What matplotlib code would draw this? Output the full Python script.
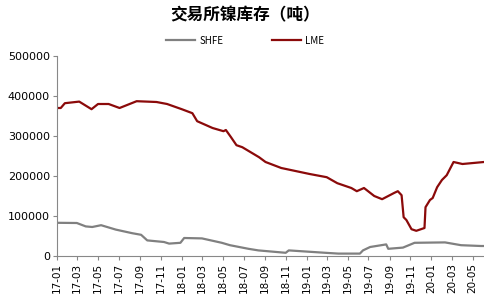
import matplotlib
matplotlib.use("Agg")
import matplotlib.pyplot as plt
import matplotlib.dates as mdates
import pandas as pd

plt.rcParams['font.family'] = ['Noto Sans CJK SC', 'DejaVu Sans']

title = "交易所镍库存（吨）"

shfe_dates = ["2017-01-01", "2017-02-28", "2017-03-26", "2017-04-14", "2017-05-10",
              "2017-06-22", "2017-08-09", "2017-09-04", "2017-09-22", "2017-11-10",
              "2017-11-25", "2017-12-28", "2018-01-08", "2018-03-01", "2018-04-28",
              "2018-05-22", "2018-07-15", "2018-08-13", "2018-11-01", "2018-11-10",
              "2019-02-25", "2019-04-04", "2019-06-06", "2019-06-15", "2019-07-06",
              "2019-08-22", "2019-08-28", "2019-10-10", "2019-11-13", "2020-02-10",
              "2020-03-28", "2020-05-25", "2020-06-03"]
shfe_values = [83000, 82500, 74000, 72500, 77000,
               66000, 57000, 53000, 39000, 35000,
               31000, 33000, 45000, 44000, 33000,
               27000, 18000, 14000, 8000, 14000,
               8000, 6000, 6000, 14000, 22500,
               29000, 18000, 21000, 33000, 34000,
               27000, 25000, 25000]

lme_dates = ["2017-01-01", "2017-01-12", "2017-01-24", "2017-03-07", "2017-04-12",
             "2017-05-01", "2017-06-01", "2017-07-03", "2017-08-22", "2017-10-19",
             "2017-11-19", "2018-01-01", "2018-02-01", "2018-02-15", "2018-04-01",
             "2018-05-03", "2018-05-10", "2018-05-25", "2018-06-10", "2018-06-27",
             "2018-08-15", "2018-09-03", "2018-10-19", "2019-01-10", "2019-03-01",
             "2019-04-01", "2019-05-12", "2019-05-28", "2019-06-18", "2019-07-18",
             "2019-08-10", "2019-09-15", "2019-09-25", "2019-10-06", "2019-10-12",
             "2019-10-20", "2019-11-04", "2019-11-18", "2019-12-12", "2019-12-15",
             "2019-12-28", "2020-01-05", "2020-01-18", "2020-02-01", "2020-02-15",
             "2020-03-06", "2020-04-01", "2020-06-03"]
lme_values = [370000, 370000, 382000, 386000, 367000,
              380000, 380000, 370000, 387000, 385000,
              380000, 367000, 357000, 337000, 320000,
              312000, 315000, 297000, 277000, 272000,
              247000, 235000, 220000, 205000, 197000,
              182000, 170000, 162000, 170000, 150000,
              142000, 158000, 162000, 152000, 97000,
              90000, 67000, 63000, 70000, 122000,
              140000, 145000, 172000, 190000, 202000,
              235000, 230000, 235000]

y_ticks = [0, 100000, 200000, 300000, 400000, 500000]

fig = plt.figure(figsize=(4.85, 3.0), dpi=100)
ax = fig.add_axes([57/485, 1-256/300, 1-57/485, 200/300])

ax.plot(pd.to_datetime(shfe_dates), shfe_values, color="#808080", lw=1.6, label="SHFE")
ax.plot(pd.to_datetime(lme_dates), lme_values, color="#8B0A0A", lw=1.6, label="LME")

ax.set_ylim(0, 500000)
ax.set_yticks(y_ticks)
ax.set_yticklabels([str(v) for v in y_ticks], fontsize=8, family="DejaVu Sans")
ax.set_xlim(pd.Timestamp("2017-01-01"), pd.Timestamp("2020-06-06"))
ax.xaxis.set_major_locator(mdates.MonthLocator(bymonth=[1, 3, 5, 7, 9, 11]))
ax.xaxis.set_major_formatter(mdates.DateFormatter("%y-%m"))
for lbl in ax.get_xticklabels():
    lbl.set_rotation(90)
    lbl.set_fontsize(7.5)
    lbl.set_family("DejaVu Sans")

for s in ["top", "right"]:
    ax.spines[s].set_visible(False)
for s in ["left", "bottom"]:
    ax.spines[s].set_color("#888888")
    ax.spines[s].set_linewidth(0.8)
ax.tick_params(axis="both", direction="out", color="#888888", length=3, width=0.8, pad=2)

fig.text(0.505, 0.95, title, ha="center", va="center", fontsize=12, fontweight="bold")
leg = fig.legend(loc="center", bbox_to_anchor=(0.505, 0.865), ncol=2, frameon=False,
                 fontsize=7, handlelength=3, columnspacing=5, handletextpad=0.4)

fig.savefig("out.png", dpi=100)
